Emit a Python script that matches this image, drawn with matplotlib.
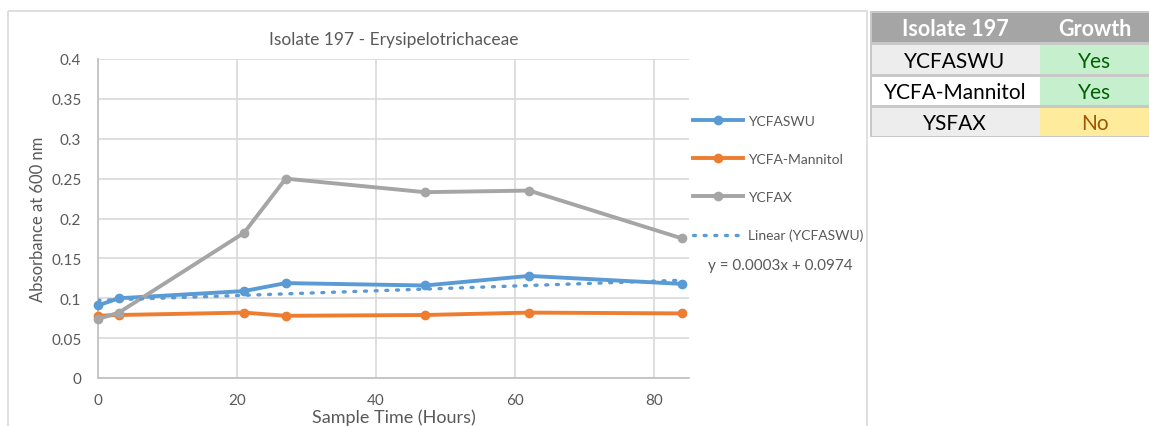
import matplotlib
matplotlib.use("Agg")
import matplotlib.pyplot as plt
from matplotlib.patches import Rectangle

plt.rcParams['font.family'] = ['Lato', 'DejaVu Sans']

# Sampling times (hours) and absorbance readings
hours = [0, 3, 21, 27, 47, 62, 84]
ycfaswu = [0.091, 0.100, 0.109, 0.119, 0.116, 0.128, 0.118]
ycfa_mannitol = [0.078, 0.079, 0.082, 0.078, 0.079, 0.082, 0.081]
ycfax = [0.074, 0.082, 0.182, 0.250, 0.233, 0.235, 0.175]

# Linear trendline for YCFASWU
trend_slope = 0.0003
trend_intercept = 0.0974

series_names = ["YCFASWU", "YCFA-Mannitol", "YCFAX"]
series_colors = ["#5b9bd5", "#ed7d31", "#a5a5a5"]

# Growth summary table
table_header = ["Isolate 197", "Growth"]
table_media = ["YCFASWU", "YCFA-Mannitol", "YSFAX"]
table_growth = ["Yes", "Yes", "No"]

W, H = 1149, 427
fig = plt.figure(figsize=(W / 100, H / 100), dpi=100)
fig.patch.set_facecolor("white")

# Overlay in pixel coordinates for the chart frame and the table
bg = fig.add_axes([0, 0, 1, 1], zorder=0)
bg.set_xlim(0, W)
bg.set_ylim(H, 0)
bg.axis("off")
bg.add_patch(Rectangle((8, 12), 859, 430, fill=False, edgecolor="#d9d9d9", lw=1.2))

# Table
line_col = "#c8c8c8"
col_x = [870, 1040, 1149]
row_y = [12, 44, 76, 107, 138]
bg.add_patch(Rectangle((col_x[0], row_y[0]), col_x[2] - col_x[0], row_y[-1] - row_y[0],
                       facecolor=line_col, edgecolor="none"))
bg.add_patch(Rectangle((col_x[0] + 2, row_y[0] + 2), col_x[2] - col_x[0] - 2, row_y[1] - row_y[0] - 3,
                       facecolor="#a5a5a5", edgecolor="none"))
for j, txt in enumerate(table_header):
    cx = (col_x[j] + col_x[j + 1]) / 2
    bg.text(cx, (row_y[0] + row_y[1]) / 2 + 1, txt, color="white", fontsize=15.5,
            fontweight="bold", ha="center", va="center")
left_fill = ["#ededed", "#ffffff", "#ededed"]
grow_fill = {"Yes": "#c6efce", "No": "#ffeb9c"}
grow_text = {"Yes": "#006100", "No": "#9c5700"}
for i, (m, g) in enumerate(zip(table_media, table_growth)):
    y0, y1 = row_y[i + 1] + 2, row_y[i + 2] - 1
    bg.add_patch(Rectangle((col_x[0] + 2, y0), col_x[1] - col_x[0] - 2, y1 - y0,
                           facecolor=left_fill[i], edgecolor="none"))
    bg.add_patch(Rectangle((col_x[1], y0), col_x[2] - col_x[1], y1 - y0,
                           facecolor=grow_fill[g], edgecolor="none"))
    yc = (y0 + y1) / 2 + 1
    bg.text((col_x[0] + col_x[1]) / 2, yc, m, color="black", fontsize=15, ha="center", va="center")
    bg.text((col_x[1] + col_x[2]) / 2, yc, g, color=grow_text[g], fontsize=15, ha="center", va="center")

# Main plot area
ax = fig.add_axes([98 / W, 1 - 379 / H, 591 / W, 319 / H], zorder=1)
ax.patch.set_alpha(0)
for name, vals, col in zip(series_names, [ycfaswu, ycfa_mannitol, ycfax], series_colors):
    ax.plot(hours, vals, color=col, lw=2.8, marker="o", ms=6, label=name,
            solid_joinstyle="round", clip_on=False, zorder=3)
tx = [hours[0], hours[-1]]
ty = [trend_slope * x + trend_intercept for x in tx]
ax.plot(tx, ty, color="#5b9bd5", lw=2.4, linestyle=(0, (0.6, 2.6)), dash_capstyle="round",
        label="Linear (YCFASWU)", zorder=4)

ax.set_xlim(0, 85)
ax.set_ylim(0, 0.4)
ax.set_xticks([0, 20, 40, 60, 80])
ax.set_yticks([0, 0.05, 0.1, 0.15, 0.2, 0.25, 0.3, 0.35, 0.4])
ax.set_yticklabels(["0", "0.05", "0.1", "0.15", "0.2", "0.25", "0.3", "0.35", "0.4"])
ax.grid(True, color="#d9d9d9", lw=1.2)
ax.set_axisbelow(True)
for s in ["top", "right"]:
    ax.spines[s].set_visible(False)
for s in ["left", "bottom"]:
    ax.spines[s].set_color("#bfbfbf")
    ax.spines[s].set_linewidth(1.2)
ax.tick_params(length=0, labelsize=11, colors="#595959")
ax.tick_params(axis="x", pad=11)
ax.tick_params(axis="y", pad=12)
ax.set_title("Isolate 197 - Erysipelotrichaceae", fontsize=12.5, color="#595959", pad=11)
ax.set_ylabel("Absorbance at 600 nm", fontsize=12, color="#595959", labelpad=4)
ax.set_xlabel("Sample Time (Hours)", fontsize=13, color="#595959", labelpad=0.5)

leg = ax.legend(loc="center left", bbox_to_anchor=(1.0, 0.627), frameon=False, fontsize=10,
                labelcolor="#595959", handlelength=3.6, handletextpad=0.35, labelspacing=1.88,
                borderaxespad=0, borderpad=0.3)
ax.text(1.154, 0.354, "y = %.4fx + %.4f" % (trend_slope, trend_intercept), transform=ax.transAxes,
        fontsize=11, color="#595959", ha="center", va="center")

fig.savefig("out.png", dpi=100)
